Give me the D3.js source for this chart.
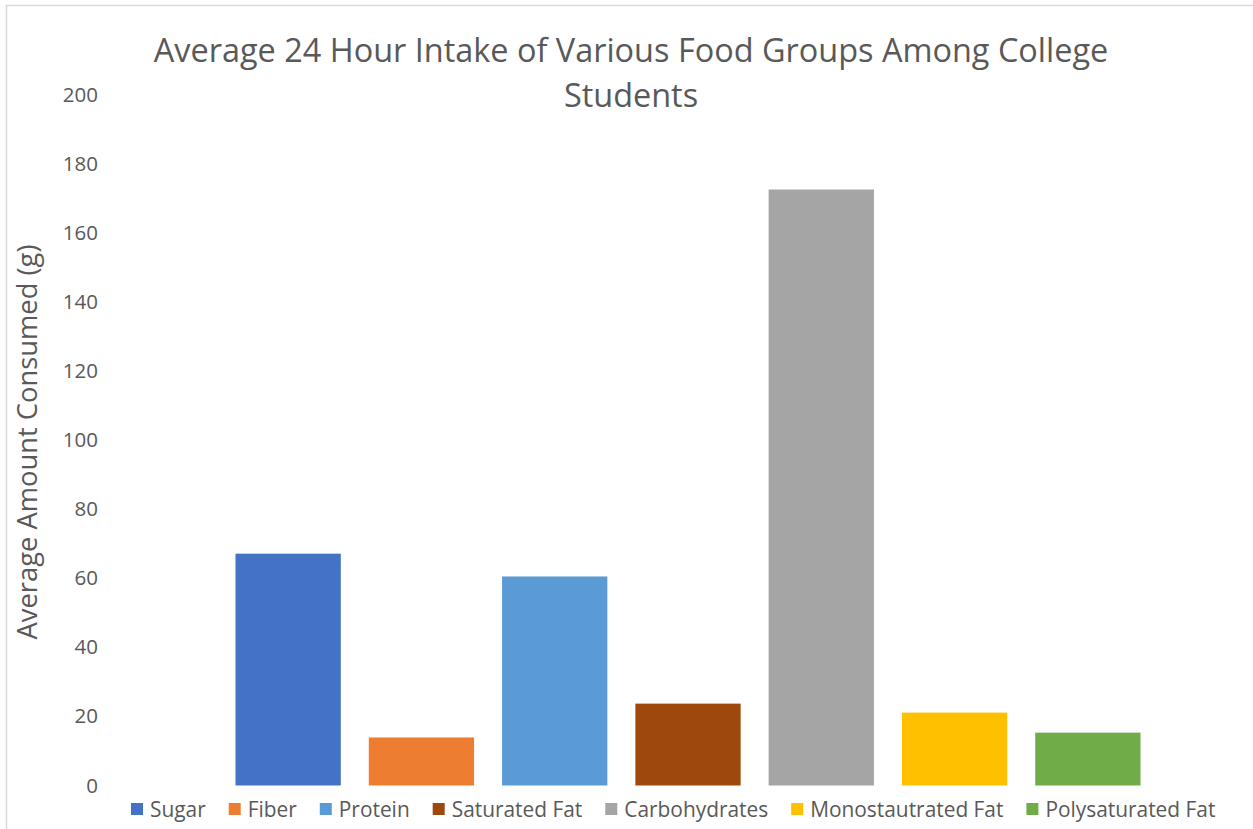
<!DOCTYPE html>
<html>
<head>
<meta charset="utf-8">
<script src="https://cdn.jsdelivr.net/npm/d3@7"></script>
<style>
  html, body { margin: 0; padding: 0; background: #fff; }
  svg { display: block; font-family: "Open Sans", sans-serif; }
</style>
</head>
<body>
<svg id="chart" width="1253" height="829"></svg>
<script>
// Food groups (one bar each) and their average 24 h intake in grams
const groups = ["Sugar", "Fiber", "Protein", "Saturated Fat", "Carbohydrates", "Monostautrated Fat", "Polysaturated Fat"];
const amounts = [67.1, 13.9, 60.5, 23.7, 172.5, 21.1, 15.3];
const colors = ["#4472C4", "#ED7D31", "#5B9BD5", "#9E480E", "#A5A5A5", "#FFC000", "#70AD47"];
const yTicks = [0, 20, 40, 60, 80, 100, 120, 140, 160, 180, 200];
const titleLines = ["Average 24 Hour Intake of Various Food Groups Among College", "Students"];
const yTitle = "Average Amount Consumed (g)";

const W = 1253, H = 829;
const textColor = "#595959";
const svg = d3.select("#chart");

// chart frame
svg.append("rect")
  .attr("x", 6.5).attr("y", 5.5)
  .attr("width", W + 10).attr("height", H + 10)
  .attr("fill", "#fff").attr("stroke", "#d9d9d9").attr("stroke-width", 1.5);

// scales
const x = d3.scaleBand()
  .domain(groups)
  .range([221.5, 1154.5])
  .paddingInner(0.21)
  .paddingOuter(0.105);

const y = d3.scaleLinear()
  .domain([0, 200])
  .range([785.5, 94.5]);

// shrink/grow a text node's font so it spans a given width
function fitWidth(sel, target) {
  const node = sel.node();
  const fs = parseFloat(sel.attr("font-size"));
  const w = node.getComputedTextLength();
  sel.attr("font-size", (fs * target / w).toFixed(2));
}

// title
const title = svg.append("g").attr("fill", textColor);
const t1 = title.append("text")
  .attr("x", 631).attr("y", 62)
  .attr("text-anchor", "middle")
  .attr("font-size", 32)
  .text(titleLines[0]);
fitWidth(t1, 955);
title.append("text")
  .attr("x", 631).attr("y", 107)
  .attr("text-anchor", "middle")
  .attr("font-size", t1.attr("font-size"))
  .text(titleLines[1]);

// y axis (labels only, no line or ticks)
const yAxis = svg.append("g")
  .attr("transform", "translate(98,0)")
  .call(d3.axisLeft(y).tickValues(yTicks).tickSize(0).tickPadding(0).tickFormat(d3.format("d")));
yAxis.select(".domain").remove();
yAxis.selectAll("text")
  .attr("fill", textColor)
  .attr("font-size", 20.5)
  .attr("font-family", "Open Sans, sans-serif");

// y axis title
const yt = svg.append("text")
  .attr("transform", "translate(37,442) rotate(-90)")
  .attr("text-anchor", "middle")
  .attr("fill", textColor)
  .attr("font-size", 22)
  .text(yTitle);
fitWidth(yt, 395);

// bars
svg.append("g").selectAll("rect")
  .data(groups)
  .join("rect")
  .attr("x", d => x(d))
  .attr("width", x.bandwidth())
  .attr("y", (d, i) => y(amounts[i]))
  .attr("height", (d, i) => y(0) - y(amounts[i]))
  .attr("fill", (d, i) => colors[i]);

// legend
const legend = svg.append("g").attr("transform", "translate(0,810)");
const legendLeft = 131, legendRight = 1216;
const sw = 12, swGap = 7, itemGap = 23;
let fs = 20;
const items = legend.selectAll("g")
  .data(groups)
  .join("g");
items.append("rect")
  .attr("y", -sw / 2 - 1)
  .attr("width", sw).attr("height", sw)
  .attr("fill", (d, i) => colors[i]);
const labels = items.append("text")
  .attr("x", sw + swGap)
  .attr("dy", "0.35em")
  .attr("fill", textColor)
  .attr("font-size", fs)
  .text(d => d);

function layoutLegend() {
  let cx = legendLeft;
  items.each(function (d, i) {
    const w = d3.select(this).select("text").node().getComputedTextLength();
    d3.select(this).attr("transform", `translate(${cx},0)`);
    cx += sw + swGap + w + itemGap;
  });
  return cx - itemGap;
}
let end = layoutLegend();
const fixed = groups.length * (sw + swGap) + (groups.length - 1) * itemGap;
fs = fs * (legendRight - legendLeft - fixed) / (end - legendLeft - fixed);
labels.attr("font-size", fs.toFixed(2));
layoutLegend();
</script>
</body>
</html>
